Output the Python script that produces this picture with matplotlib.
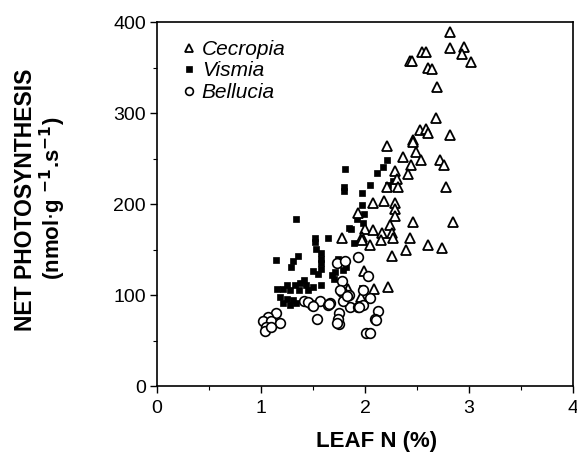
import matplotlib
matplotlib.use('Agg')
import matplotlib.pyplot as plt
from matplotlib.ticker import MultipleLocator

# ── Data ────────────────────────────────────────────────────────────────────
cecropia_n = [2.82, 2.82, 2.95, 2.93, 3.02, 2.55, 2.59, 2.43, 2.45, 2.61, 2.64,
              2.69, 2.68, 2.53, 2.59, 2.61, 2.82, 2.46, 2.21, 2.46, 2.49, 2.37,
              2.54, 2.72, 2.76, 2.44, 2.29, 2.41, 2.31, 2.21, 2.32, 2.78, 2.08,
              2.18, 2.29, 2.29, 1.93, 2.29, 2.46, 2.85, 2.24, 2.00, 2.08, 2.16,
              2.26, 2.43, 1.97, 1.78, 1.97, 2.05, 2.15, 2.27, 2.26, 2.39, 2.61,
              2.74, 1.99, 2.09, 2.22, 1.96, 1.84]
cecropia_ps = [389, 372, 373, 365, 356, 367, 367, 357, 357, 349, 348,
               329, 294, 281, 282, 278, 276, 270, 264, 268, 257, 252,
               248, 248, 243, 243, 236, 233, 228, 219, 219, 219, 201,
               203, 201, 195, 190, 187, 180, 180, 177, 173, 171, 168,
               168, 163, 164, 163, 161, 155, 160, 163, 143, 149, 155,
               152, 126, 107, 109, 98, 107]

vismia_n = [1.81, 1.80, 1.80, 1.34, 1.85, 1.52, 1.64, 2.21, 2.17, 2.12, 2.05,
            2.22, 2.27, 1.97, 1.97, 1.99, 1.92, 1.98, 1.87, 1.89, 1.97, 1.82,
            1.53, 1.36, 1.14, 1.31, 1.29, 1.58, 1.58, 1.58, 1.58, 1.50, 1.55,
            1.70, 1.71, 1.41, 1.38, 1.43, 1.33, 1.25, 1.15, 1.21, 1.28, 1.37,
            1.45, 1.50, 1.58, 1.18, 1.25, 1.31, 1.21, 1.28, 1.34, 1.13, 1.09,
            1.79, 1.74, 1.68, 1.93, 1.52]
vismia_ps = [238, 219, 214, 183, 174, 163, 163, 248, 241, 234, 221,
             221, 225, 212, 199, 189, 183, 179, 173, 157, 108, 131,
             151, 143, 138, 137, 131, 146, 140, 135, 129, 126, 123,
             118, 125, 116, 113, 111, 111, 111, 107, 107, 105, 105,
             105, 109, 111, 98, 96, 94, 91, 89, 91, 78, 73,
             127, 140, 122, 87, 158]

bellucia_n = [1.93, 2.03, 1.85, 2.05, 1.98, 1.86, 1.93, 2.13, 2.10, 2.01, 2.05,
              2.11, 1.75, 1.75, 1.78, 1.73, 1.81, 1.78, 1.79, 1.94, 1.98, 1.66,
              1.76, 1.83, 1.41, 1.49, 1.57, 1.64, 1.54, 1.74, 1.73, 1.14, 1.07,
              1.02, 1.10, 1.18, 1.05, 1.04, 1.10, 1.45, 1.65, 1.50]
bellucia_ps = [142, 121, 100, 97, 89, 87, 87, 82, 74, 58, 58,
               73, 80, 68, 115, 135, 137, 103, 93, 87, 105, 91,
               105, 99, 93, 89, 93, 89, 74, 74, 69, 80, 76,
               71, 71, 69, 65, 61, 65, 92, 90, 88]

species = ['Cecropia', 'Vismia', 'Bellucia']
x_ticks = [0, 1, 2, 3, 4]
y_ticks = [0, 100, 200, 300, 400]

FONT = 'Liberation Sans'

fig = plt.figure(figsize=(5.77, 4.55), dpi=100)
ax = fig.add_axes([0.272, 0.1516, 0.721, 0.80])

ax.plot(cecropia_n, cecropia_ps, linestyle='none', marker='^', ms=6.8,
        mfc='white', mec='black', mew=1.3, label=species[0], zorder=3)
ax.plot(vismia_n, vismia_ps, linestyle='none', marker='s', ms=5.0,
        mfc='black', mec='black', mew=0.5, label=species[1], zorder=2)
ax.plot(bellucia_n, bellucia_ps, linestyle='none', marker='o', ms=7.0,
        mfc='white', mec='black', mew=1.2, label=species[2], zorder=4)

ax.set_xlim(0, 4)
ax.set_ylim(0, 400)
ax.set_xticks(x_ticks)
ax.set_yticks(y_ticks)
ax.xaxis.set_minor_locator(MultipleLocator(0.5))
ax.yaxis.set_minor_locator(MultipleLocator(50))
ax.tick_params(which='major', direction='out', length=5, width=1,
               labelsize=14)
ax.tick_params(axis='x', which='major', pad=5)
ax.tick_params(axis='y', which='major', pad=3)
ax.tick_params(which='minor', direction='out', length=3, width=0.8)
for lab in ax.get_xticklabels() + ax.get_yticklabels():
    lab.set_fontfamily(FONT)
for s in ax.spines.values():
    s.set_linewidth(1.2)

leg = ax.legend(loc='upper left', bbox_to_anchor=(0.025, 0.985), frameon=False,
                handletextpad=0.15, labelspacing=0.12, borderaxespad=0.2,
                handlelength=0.9, markerscale=0.8,
                prop={'family': FONT, 'style': 'italic', 'size': 15})

fig.text(0.653, 0.029, 'LEAF N (%)', ha='center', va='center',
         fontsize=16, fontweight='bold', family=FONT)
fig.text(0.045, 0.56, 'NET PHOTOSYNTHESIS', ha='center', va='center',
         rotation=90, fontsize=16.5, fontweight='bold', family=FONT)
fig.text(0.092, 0.565, r'(nmol$\cdot$g $^{\mathbf{-1}}$.s$^{\mathbf{-1}}$)',
         ha='center', va='center', rotation=90, fontsize=16,
         fontweight='bold', family=FONT)

plt.savefig('out.png', dpi=100, facecolor='white')
plt.close()
